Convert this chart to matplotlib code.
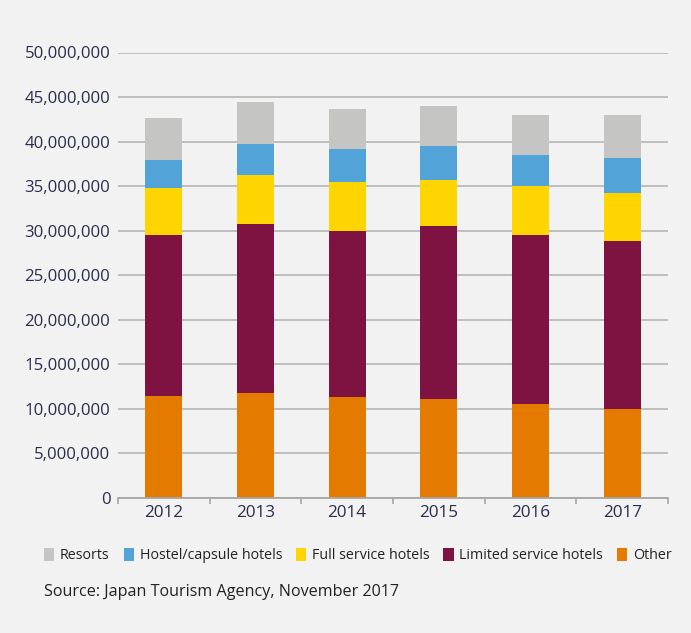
import matplotlib
matplotlib.use("Agg")
import matplotlib.pyplot as plt
from matplotlib.patches import Patch
import numpy as np

years = ["2012", "2013", "2014", "2015", "2016", "2017"]
other = [11.5e6, 11.8e6, 11.3e6, 11.1e6, 10.5e6, 10.0e6]
limited = [18.0e6, 18.9e6, 18.7e6, 19.4e6, 19.0e6, 18.9e6]
full_service = [5.3e6, 5.5e6, 5.45e6, 5.2e6, 5.5e6, 5.3e6]
hostel = [3.15e6, 3.5e6, 3.75e6, 3.8e6, 3.5e6, 4.0e6]
resorts = [4.7e6, 4.75e6, 4.5e6, 4.45e6, 4.45e6, 4.75e6]

series = [
    ("Other", other, "#e57a00"),
    ("Limited service hotels", limited, "#7e1240"),
    ("Full service hotels", full_service, "#ffd500"),
    ("Hostel/capsule hotels", hostel, "#52a4d8"),
    ("Resorts", resorts, "#c5c5c4"),
]

bg = "#f2f2f2"
txt = "#2b2d4e"
plt.rcParams['font.family'] = ['Open Sans', 'DejaVu Sans']

fig = plt.figure(figsize=(6.91, 6.33), dpi=100, facecolor=bg)
ax = fig.add_axes([118/691, 1-498/633, 550/691, (498-52.5)/633])
ax.set_facecolor(bg)

x = np.arange(len(years))
bottom = np.zeros(len(years))
for name, vals, col in series:
    ax.bar(x, vals, width=0.4, bottom=bottom, color=col, zorder=3, label=name)
    bottom += np.array(vals)

ax.set_xlim(-0.5, len(years) - 0.5)
ax.set_ylim(0, 50e6)
yt = np.arange(0, 50e6 + 1, 5e6)
ax.set_yticks(yt)
ax.set_yticklabels([f"{int(v):,}" for v in yt], fontsize=12.1, color=txt)
ax.set_xticks(x)
ax.set_xticklabels(years, fontsize=12.3, color=txt)
ax.set_xticks(np.arange(-0.5, len(years), 1), minor=True)
ax.tick_params(axis='x', which='major', length=0, pad=5)
ax.tick_params(axis='x', which='minor', length=4, color="#a6a6a6", width=1.2)
ax.tick_params(axis='y', length=0, pad=5.5)
ax.grid(axis='y', color="#bababa", linewidth=1.3, zorder=0)
for s in ["top", "right", "left"]:
    ax.spines[s].set_visible(False)
ax.spines["bottom"].set_color("#a6a6a6")
ax.spines["bottom"].set_linewidth(1.3)
ax.spines["bottom"].set_zorder(4)

handles = [Patch(facecolor=c, label=n) for n, v, c in reversed(series)]
leg = fig.legend(handles=handles, loc="center left", bbox_to_anchor=(44/691, 1-555.5/633),
                 ncol=5, frameon=False, fontsize=10.3, handlelength=0.72, handleheight=1.05,
                 handletextpad=0.4, columnspacing=0.97, borderpad=0, borderaxespad=0)
for t in leg.get_texts():
    t.set_color("#222222")

fig.text(44/691, 1-591.5/633, "Source: Japan Tourism Agency, November 2017", fontsize=11.6,
         color="#222222", va="center", ha="left")

fig.savefig("out.png", dpi=100, facecolor=bg)
